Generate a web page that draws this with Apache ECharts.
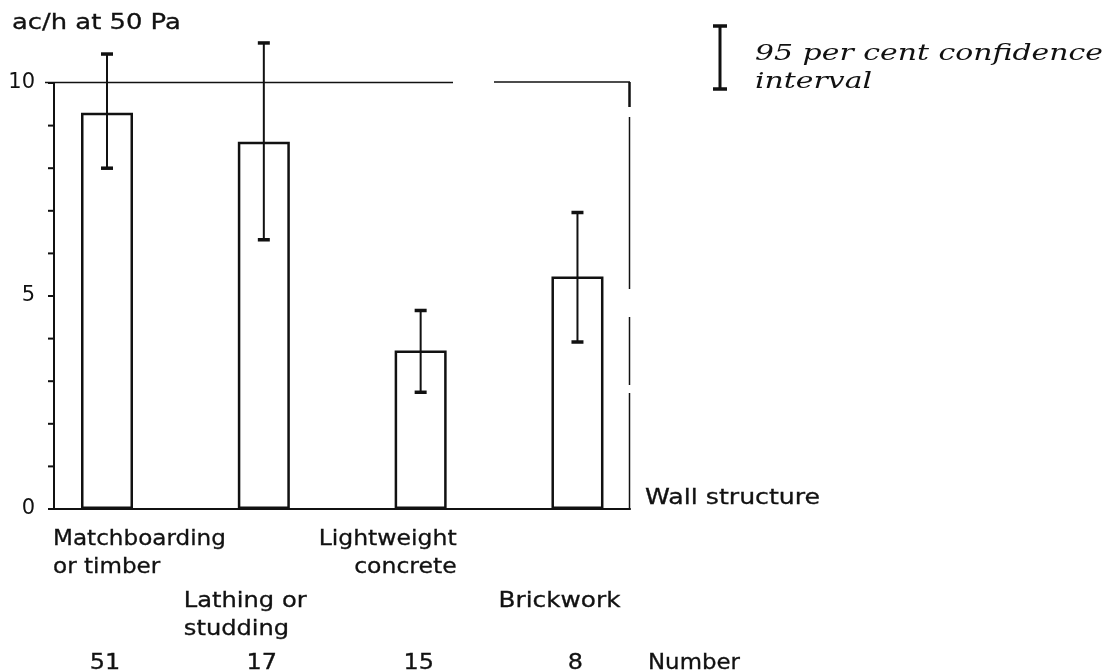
<!DOCTYPE html>
<html><head><meta charset="utf-8">
<script src="https://cdn.jsdelivr.net/npm/echarts@6/dist/echarts.min.js"></script>
<style>html,body{margin:0;padding:0;background:#fff}#c{width:1116px;height:672px}</style>
</head><body><div id="c"></div>
<script>
// ---- data ----
const categories = ['Matchboarding\nor timber', 'Lathing or\nstudding', 'Lightweight\nconcrete', 'Brickwork'];
const means = [9.3, 8.62, 3.72, 5.46];
const ciLow = [8.0, 6.32, 2.74, 3.92];
const ciHigh = [10.68, 10.94, 4.66, 6.96];
const counts = [51, 17, 15, 8];
const yTickLabels = [0, 5, 10];
const yTickMarks = [0, 1, 2, 3, 4, 5, 6, 7, 8, 9, 10];
const yAxisTitle = 'ac/h at 50 Pa';
const xAxisTitle = 'Wall structure';
const countTitle = 'Number';
const legendLines = ['95 per cent confidence', 'interval'];

// ---- style / layout ----
const INK = '#111';
const FONT = '21px "DejaVu Sans"';
const LEG_FONT = 'italic 22px "DejaVu Serif"';
const SX = 1.14;
const TXT = {font: FONT, fill: INK, stroke: INK, lineWidth: 0.3};
const labelLayout = [
  {dx: -54, dy: 17, align: 'left', sx: 1.1},
  {dx: -80, dy: 79, align: 'left', sx: 1.15},
  {dx: 36, dy: 17, align: 'right', sx: 1.12},
  {dx: -79, dy: 79, align: 'left', sx: 1.18}
];

function textWidth(text, font) {
  const ctx = document.createElement('canvas').getContext('2d');
  ctx.font = font;
  return ctx.measureText(text).width;
}
const legScale = 348 / textWidth(legendLines[0], LEG_FONT);

function errorBar(params, api) {
  const x = api.value(0);
  const lo = api.coord([x, api.value(1)]);
  const hi = api.coord([x, api.value(2)]);
  const hw = 6;
  return {type: 'group', children: [
    {type: 'line', shape: {x1: lo[0], y1: lo[1], x2: hi[0], y2: hi[1]}, style: {stroke: INK, lineWidth: 2}},
    {type: 'line', shape: {x1: lo[0] - hw, y1: lo[1], x2: lo[0] + hw, y2: lo[1]}, style: {stroke: INK, lineWidth: 3.5}},
    {type: 'line', shape: {x1: hi[0] - hw, y1: hi[1], x2: hi[0] + hw, y2: hi[1]}, style: {stroke: INK, lineWidth: 3.5}}
  ]};
}

function tickMark(params, api) {
  const y = api.coord([0, api.value(0)])[1];
  const x0 = params.coordSys.x;
  return {type: 'line', shape: {x1: x0 - 6, y1: y, x2: x0, y2: y}, style: {stroke: INK, lineWidth: 2}};
}

function catLabels(params, api) {
  const i = params.dataIndex;
  const p = api.coord([api.value(0), 0]);
  const L = labelLayout[i];
  return {type: 'group', children: [
    {type: 'text', x: p[0] + L.dx, y: p[1] + L.dy, scaleX: L.sx,
      style: Object.assign({text: categories[i], align: L.align, verticalAlign: 'top', lineHeight: 28}, TXT)},
    {type: 'text', x: p[0] - 2, y: p[1] + 155, scaleX: SX,
      style: Object.assign({text: String(counts[i]), align: 'center', verticalAlign: 'middle'}, TXT)}
  ]};
}

const chart = echarts.init(document.getElementById('c'));
chart.setOption({
  animation: false,
  backgroundColor: '#fff',
  grid: {left: 54, right: 486, top: 83, bottom: 163},
  xAxis: {type: 'value', min: -0.338, max: 3.335,
    axisLine: {show: true, onZero: false, lineStyle: {color: INK, width: 2}},
    axisTick: {show: false}, axisLabel: {show: false}, splitLine: {show: false}},
  yAxis: {type: 'value', min: yTickLabels[0], max: yTickLabels[yTickLabels.length - 1],
    interval: yTickLabels[1] - yTickLabels[0],
    axisLine: {show: true, onZero: false, lineStyle: {color: INK, width: 2}},
    axisTick: {show: false},
    axisLabel: {fontFamily: 'DejaVu Sans', fontSize: 21, color: INK, margin: 19},
    splitLine: {show: false}},
  graphic: [
    {type: 'text', x: 12, y: 24, scaleX: 1.23, style: Object.assign({text: yAxisTitle, verticalAlign: 'middle'}, TXT)},
    {type: 'text', x: 645, y: 499, scaleX: 1.2, style: Object.assign({text: xAxisTitle, verticalAlign: 'middle'}, TXT)},
    {type: 'text', x: 648, y: 664, scaleX: 1.09, style: Object.assign({text: countTitle, verticalAlign: 'middle'}, TXT)},
    // frame
    {type: 'line', shape: {x1: 45, y1: 82.5, x2: 453, y2: 82.5}, style: {stroke: INK, lineWidth: 1.5}},
    {type: 'line', shape: {x1: 494, y1: 82, x2: 630, y2: 82}, style: {stroke: INK, lineWidth: 1.5}},
    {type: 'line', shape: {x1: 629.5, y1: 82, x2: 629.5, y2: 107}, style: {stroke: INK, lineWidth: 2.5}},
    {type: 'line', shape: {x1: 629.5, y1: 117, x2: 629.5, y2: 289}, style: {stroke: INK, lineWidth: 1.5}},
    {type: 'line', shape: {x1: 629.5, y1: 317, x2: 629.5, y2: 385}, style: {stroke: INK, lineWidth: 1.5}},
    {type: 'line', shape: {x1: 629.5, y1: 393, x2: 629.5, y2: 510}, style: {stroke: INK, lineWidth: 1.5}},
    // legend
    {type: 'line', shape: {x1: 720, y1: 25, x2: 720, y2: 90}, style: {stroke: INK, lineWidth: 3}},
    {type: 'line', shape: {x1: 713, y1: 26, x2: 727, y2: 26}, style: {stroke: INK, lineWidth: 3.5}},
    {type: 'line', shape: {x1: 713, y1: 89, x2: 727, y2: 89}, style: {stroke: INK, lineWidth: 3.5}},
    {type: 'text', x: 755, y: 40, scaleX: legScale, style: {text: legendLines.join('\n'), font: LEG_FONT, fill: INK, verticalAlign: 'top', lineHeight: 28}}
  ],
  series: [
    {type: 'bar', data: means.map((m, i) => [i, m]), barWidth: 52,
      itemStyle: {color: '#fff', borderColor: INK, borderWidth: 2.5}},
    {type: 'custom', data: means.map((m, i) => [i, ciLow[i], ciHigh[i]]), renderItem: errorBar, clip: false, z: 5},
    {type: 'custom', data: yTickMarks.map(v => [v]), encode: {y: 0}, renderItem: tickMark, clip: false, silent: true, z: 6},
    {type: 'custom', data: categories.map((c, i) => [i]), renderItem: catLabels, clip: false, silent: true}
  ]
});
</script></body></html>
